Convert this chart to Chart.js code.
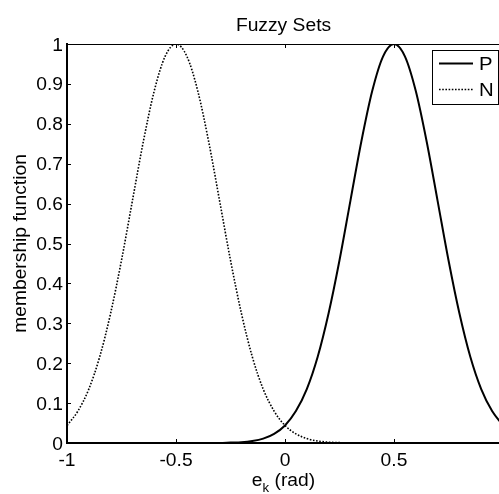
<!DOCTYPE html>
<html>
<head>
<meta charset="utf-8">
<title>Fuzzy Sets</title>
<script src="https://cdn.jsdelivr.net/npm/chart.js@4.4.1/dist/chart.umd.min.js"></script>
<style>
    html, body { margin: 0; padding: 0; background: #fff; overflow: hidden; }
    .chart-box { position: relative; width: 510px; height: 494px; }
</style>
</head>
<body>
<div class="chart-box"><canvas id="fuzzyChart"></canvas></div>
<script>
// error e_k (rad), sampled every 0.05
const errorValues = [
    -1, -0.95, -0.9, -0.85, -0.8, -0.75, -0.7, -0.65, -0.6, -0.55,
    -0.5, -0.45, -0.4, -0.35, -0.3, -0.25, -0.2, -0.15, -0.1, -0.05,
    0, 0.05, 0.1, 0.15, 0.2, 0.25, 0.3, 0.35, 0.4, 0.45,
    0.5, 0.55, 0.6, 0.65, 0.7, 0.75, 0.8, 0.85, 0.9, 0.95, 1
];

// membership of the positive set P
const positiveValues = [
    0, 0, 0, 0, 0, 0, 0, 0, 0, 0,
    0, 0, 0, 0, 0, 0.001, 0.002, 0.005, 0.011, 0.023,
    0.044, 0.08, 0.135, 0.216, 0.325, 0.458, 0.607, 0.755, 0.882, 0.969,
    1, 0.969, 0.882, 0.755, 0.607, 0.458, 0.325, 0.216, 0.135, 0.08, 0.044
];

// membership of the negative set N
const negativeValues = [
    0.044, 0.08, 0.135, 0.216, 0.325, 0.458, 0.607, 0.755, 0.882, 0.969,
    1, 0.969, 0.882, 0.755, 0.607, 0.458, 0.325, 0.216, 0.135, 0.08,
    0.044, 0.023, 0.011, 0.005, 0.002, 0.001, 0, 0, 0, 0,
    0, 0, 0, 0, 0, 0, 0, 0, 0, 0, 0
];

const setLabels = ['P', 'N'];
const xTickValues = [-1, -0.5, 0, 0.5, 1];
const yTickValues = [0, 0.1, 0.2, 0.3, 0.4, 0.5, 0.6, 0.7, 0.8, 0.9, 1];

const FONT = '"Liberation Sans", Arial, Helvetica, sans-serif';
const FONT_SIZE = 17.5;
const STRETCH = 1.1;   // the figure font runs a bit wider than Arial
const TICK_LEN = 4;

function toPoints(values) {
    return errorValues.map((x, i) => ({ x: x, y: values[i] }));
}

// text with a little horizontal stretch, optionally rotated
function drawText(ctx, text, x, y, align, size, angle) {
    ctx.save();
    ctx.font = size + 'px ' + FONT;
    ctx.translate(x, y);
    if (angle) ctx.rotate(angle);
    ctx.scale(STRETCH, 1);
    ctx.textAlign = align;
    ctx.textBaseline = 'alphabetic';
    ctx.fillStyle = '#000';
    ctx.fillText(text, 0, 0);
    ctx.restore();
}

function textWidth(ctx, text, size) {
    ctx.save();
    ctx.font = size + 'px ' + FONT;
    const w = ctx.measureText(text).width * STRETCH;
    ctx.restore();
    return w;
}

// box outline, inward ticks, tick labels, titles and the legend box
const matlabFrame = {
    id: 'matlabFrame',
    afterDatasetsDraw(chart) {
        const ctx = chart.ctx;
        const a = chart.chartArea;
        const xs = chart.scales.x;
        const ys = chart.scales.y;

        ctx.save();
        ctx.strokeStyle = '#000';
        ctx.lineWidth = 1;
        ctx.beginPath();
        ctx.moveTo(a.left, a.top + 0.5);
        ctx.lineTo(a.right, a.top + 0.5);
        ctx.moveTo(a.right - 0.5, a.top);
        ctx.lineTo(a.right - 0.5, a.bottom);

        xTickValues.forEach(v => {
            const px = Math.round(xs.getPixelForValue(v)) + 0.5;
            ctx.moveTo(px, a.bottom);
            ctx.lineTo(px, a.bottom - TICK_LEN);
            ctx.moveTo(px, a.top);
            ctx.lineTo(px, a.top + TICK_LEN);
        });
        yTickValues.forEach(v => {
            const py = Math.round(ys.getPixelForValue(v)) + 0.5;
            ctx.moveTo(a.left, py);
            ctx.lineTo(a.left + TICK_LEN, py);
            ctx.moveTo(a.right, py);
            ctx.lineTo(a.right - TICK_LEN, py);
        });
        ctx.stroke();

        // tick labels
        xTickValues.forEach(v => {
            drawText(ctx, String(v), xs.getPixelForValue(v), a.bottom + 23, 'center', FONT_SIZE);
        });
        yTickValues.forEach(v => {
            drawText(ctx, String(v), a.left - 4, ys.getPixelForValue(v) + 6.5, 'right', FONT_SIZE);
        });

        // title
        const cx = (a.left + a.right) / 2 - 1.5;
        drawText(ctx, 'Fuzzy Sets', cx, 31, 'center', FONT_SIZE);

        // x label with subscript k
        const wE = textWidth(ctx, 'e', FONT_SIZE);
        const wK = textWidth(ctx, 'k', 12);
        const wRad = textWidth(ctx, ' (rad)', FONT_SIZE);
        const x0 = cx - (wE + wK + wRad) / 2;
        drawText(ctx, 'e', x0, 485.5, 'left', FONT_SIZE);
        drawText(ctx, 'k', x0 + wE, 492, 'left', 12);
        drawText(ctx, ' (rad)', x0 + wE + wK, 485.5, 'left', FONT_SIZE);

        // y label
        drawText(ctx, 'membership function', 26, (a.top + a.bottom) / 2, 'center', FONT_SIZE, -Math.PI / 2);

        // legend box in the upper right corner
        const box = { left: 432.5, top: 50.5, right: 498.5, bottom: 104.5 };
        ctx.fillStyle = '#fff';
        ctx.fillRect(box.left, box.top, box.right - box.left, box.bottom - box.top);
        ctx.strokeRect(box.left, box.top, box.right - box.left, box.bottom - box.top);
        const rows = [63, 89];
        chart.data.datasets.forEach((ds, i) => {
            ctx.save();
            ctx.strokeStyle = ds.borderColor;
            ctx.lineWidth = ds.borderWidth;
            ctx.setLineDash(ds.borderDash || []);
            ctx.beginPath();
            ctx.moveTo(439, rows[i] + 0.5);
            ctx.lineTo(473, rows[i] + 0.5);
            ctx.stroke();
            ctx.restore();
            drawText(ctx, ds.label, 479, rows[i] + 7, 'left', FONT_SIZE + 1);
        });
        ctx.restore();
    }
};

const ctx = document.getElementById('fuzzyChart').getContext('2d');
new Chart(ctx, {
    type: 'line',
    data: {
        datasets: [{
            label: setLabels[0],
            data: toPoints(positiveValues),
            borderColor: '#000',
            borderWidth: 2,
            pointRadius: 0,
            cubicInterpolationMode: 'monotone',
            fill: false
        }, {
            label: setLabels[1],
            data: toPoints(negativeValues),
            borderColor: '#000',
            borderWidth: 1.6,
            borderDash: [1.6, 1.6],
            pointRadius: 0,
            cubicInterpolationMode: 'monotone',
            fill: false
        }]
    },
    options: {
        responsive: true,
        maintainAspectRatio: false,
        animation: false,
        events: [],
        layout: {
            padding: { top: 44, right: 7, left: 0, bottom: 0 }
        },
        scales: {
            x: {
                type: 'linear',
                min: -1,
                max: 1,
                afterFit: scale => { scale.height = 51; },
                grid: { display: false, drawTicks: false },
                border: { display: true, color: '#000', width: 2 },
                ticks: { display: false }
            },
            y: {
                min: 0,
                max: 1,
                afterFit: scale => { scale.width = 67; },
                grid: { display: false, drawTicks: false },
                border: { display: true, color: '#000', width: 2 },
                ticks: { display: false }
            }
        },
        plugins: {
            legend: { display: false },
            title: { display: false },
            tooltip: { enabled: false }
        }
    },
    plugins: [matlabFrame]
});
</script>
</body>
</html>
